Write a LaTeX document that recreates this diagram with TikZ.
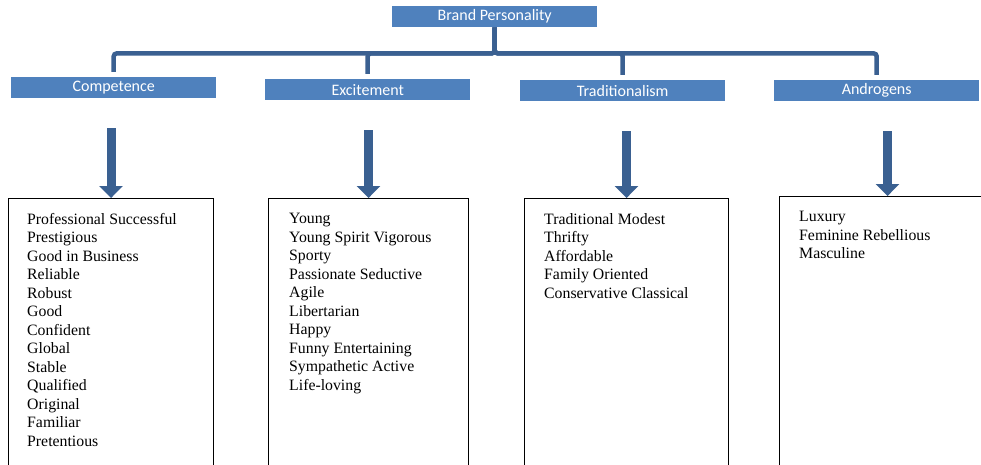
\documentclass[tikz,border=0pt]{standalone}
\usepackage{fontspec}
\setmainfont{Liberation Serif}
\newfontfamily\headfont{Carlito}
\usetikzlibrary{arrows.meta, positioning, calc}
\definecolor{hdrblue}{RGB}{79,129,189}
\definecolor{linkblue}{RGB}{58,96,145}
\tikzset{
  headbox/.style={rectangle, fill=hdrblue, text=white,
    minimum width=205pt, minimum height=21pt, inner sep=0pt,
    anchor=north west, font=\headfont\fontsize{16}{18}\selectfont},
  listbox/.style={rectangle, draw=black, line width=1.1pt,
    minimum height=320pt, inner sep=0pt, anchor=north west},
  listtext/.style={align=left, inner sep=0pt, anchor=north west,
    font=\fontsize{15.8}{18.5}\selectfont},
  branch/.style={line width=4.5pt, color=linkblue, rounded corners=3pt, shorten >=5pt},
  downarrow/.style={-{Triangle[width=23pt,length=12pt]}, line width=9pt,
    color=linkblue, shorten <=30pt}
}
\begin{document}
\begin{tikzpicture}[x=1pt, y=-1pt]
  \useasboundingbox (0,0) rectangle (981,465);

  % root
  \node[headbox] (bp) at (392,6) {Brand Personality};
  \coordinate (bar) at ($(bp.south)+(0,26)$);

  % dimensions
  \node[headbox] (compHead) at (11,77) {Competence};
  \node[headbox] (excHead) at (265,79) {Excitement};
  \node[headbox] (tradHead) at (520,80) {Traditionalism};
  \node[headbox] (andHead) at (774,80) {Androgens};

  \foreach \h in {compHead, excHead, tradHead, andHead}
    \draw[branch] (bp.south) |- (bar -| \h.north) -- (\h.north);

  % trait boxes
  \node[listbox, minimum width=205pt] (compBox) at (8,198) {};
  \node[listbox, minimum width=200pt] (excBox) at (268,198) {};
  \node[listbox, minimum width=204pt] (tradBox) at (524,198) {};
  \node[listbox, minimum width=216pt] (andBox) at (779,196) {};

  \foreach \h/\b in {compHead/compBox, excHead/excBox, tradHead/tradBox, andHead/andBox}
    \draw[downarrow] (\b.north |- \h.south) -- (\b.north);

  % traits
  \node[listtext] (compList) at ($(compBox.north west)+(19,15)$) {Professional Successful\\
    Prestigious\\ Good in Business\\ Reliable\\ Robust\\ Good\\ Confident\\ Global\\
    Stable\\ Qualified\\ Original\\ Familiar\\ Pretentious};
  \node[listtext] (excList) at ($(excBox.north west)+(21,15)$) {Young\\
    Young Spirit Vigorous\\ Sporty\\ Passionate Seductive\\ Agile\\ Libertarian\\
    Happy\\ Funny Entertaining\\ Sympathetic Active\\ Life-loving};
  \node[listtext] (tradList) at ($(tradBox.north west)+(20,15)$) {Traditional Modest\\
    Thrifty\\ Affordable\\ Family Oriented\\ Conservative Classical};
  \node[listtext] (andList) at ($(andBox.north west)+(20,15)$) {Luxury\\
    Feminine Rebellious\\ Masculine};
\end{tikzpicture}
\end{document}
